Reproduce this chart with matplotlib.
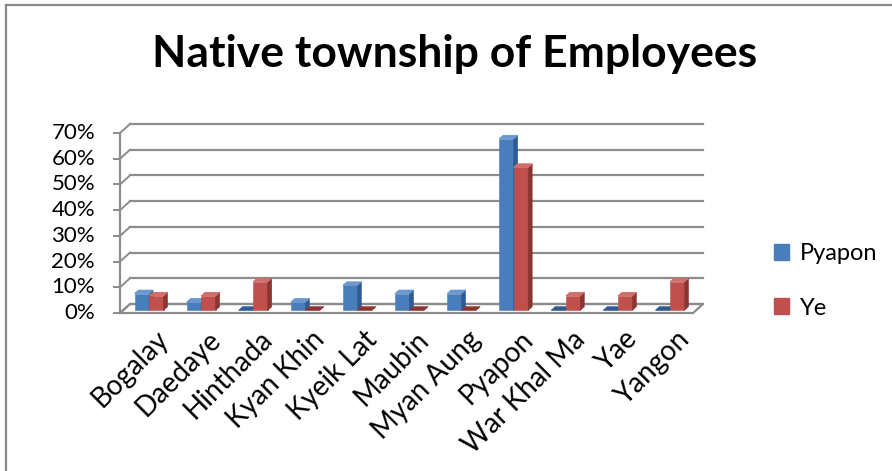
import matplotlib
matplotlib.use("Agg")
import matplotlib.pyplot as plt
from matplotlib.lines import Line2D
from matplotlib.patches import Polygon, Patch

categories = ["Bogalay", "Daedaye", "Hinthada", "Kyan Khin", "Kyeik Lat", "Maubin",
              "Myan Aung", "Pyapon", "War Khal Ma", "Yae", "Yangon"]
pyapon = [6.5, 3.2, 0.0, 3.2, 9.7, 6.5, 6.5, 66.7, 0.0, 0.0, 0.0]
ye = [5.6, 5.6, 11.1, 0.0, 0.0, 0.0, 0.0, 55.6, 5.6, 5.6, 11.1]
series_names = ["Pyapon", "Ye"]
y_ticks = [0, 10, 20, 30, 40, 50, 60, 70]
title = "Native township of Employees"

FONT = "Lato"
plt.rcParams["font.family"] = [FONT, "DejaVu Sans"]

W, H = 892, 471
fig = plt.figure(figsize=(W / 100, H / 100), dpi=100)
fig.patch.set_facecolor("white")

# back wall of the 3-D box, in pixels
bx0, bx1 = 130, 703
by0, by1 = 304, 124
ax = fig.add_axes([bx0 / W, 1 - by0 / H, (bx1 - bx0) / W, (by0 - by1) / H])
ax.set_xlim(-0.5, len(categories) - 0.5)
ax.set_ylim(0, 70)
ax.axis("off")

ux = (bx1 - bx0) / len(categories)   # pixels per category
uy = (by0 - by1) / 70.0              # pixels per percent


def off(dx_px, dy_px):
    """pixel shift (right, down) expressed in data units"""
    return dx_px / ux, -dy_px / uy


grid_col = "#8c8c8c"
fdx, fdy = off(-10, 9)          # front plane relative to back wall
x_left, x_right = -0.5, len(categories) - 0.5

# floor
floor = Polygon([(x_left, 0), (x_right, 0), (x_right + fdx, fdy), (x_left + fdx, fdy)],
                closed=True, facecolor="white", edgecolor=grid_col, lw=1.6,
                clip_on=False, zorder=1)
ax.add_patch(floor)

# back-wall gridlines and side-wall diagonals
for v in y_ticks:
    ax.plot([x_left, x_right], [v, v], color=grid_col, lw=1.6, clip_on=False, zorder=1)
    ax.plot([x_left, x_left + fdx], [v, v + fdy], color=grid_col, lw=1.4,
            clip_on=False, zorder=1)
    tdx, _ = off(-6, 0)
    ax.plot([x_left + fdx, x_left + fdx + tdx], [v + fdy, v + fdy], color=grid_col,
            lw=1.4, clip_on=False, zorder=1)
    lx, _ = off(-25, 0)
    ax.text(x_left + fdx + lx, v + fdy, f"{v}%", ha="right", va="center",
            fontsize=16, color="black")

# front vertical axis
ax.plot([x_left + fdx, x_left + fdx], [fdy, 70 + fdy], color=grid_col, lw=1.6,
        clip_on=False, zorder=1)

# bars
bar_w = 14.5 / ux
pos_dx, pos_dy = off(-7, 6.3)   # front face of the bars
dep_dx, dep_dy = off(4, -3.5)    # bar depth
colors = [
    ("#4a7ebb", "#2f5b90", "#6a97cf"),
    ("#c0504d", "#8b3532", "#d06d6a"),
]

for i in range(len(categories)):
    for s, vals in enumerate([pyapon, ye]):
        h = vals[i]
        L = i - bar_w + s * bar_w + pos_dx
        R = L + bar_w
        b = pos_dy
        t = h + pos_dy
        front_c, side_c, top_c = colors[s]
        z = 3 + s
        if h > 0:
            ax.add_patch(Polygon([(L, b), (R, b), (R, t), (L, t)], closed=True,
                                 facecolor=front_c, edgecolor=front_c, lw=0.4,
                                 clip_on=False, zorder=z))
            ax.add_patch(Polygon([(R, b), (R + dep_dx, b + dep_dy), (R + dep_dx, t + dep_dy),
                                  (R, t)], closed=True, facecolor=side_c,
                                 edgecolor=side_c, lw=0.4, clip_on=False, zorder=z))
        ax.add_patch(Polygon([(L, t), (R, t), (R + dep_dx, t + dep_dy), (L + dep_dx, t + dep_dy)],
                             closed=True, facecolor=top_c if h > 0 else side_c,
                             edgecolor=top_c if h > 0 else side_c, lw=0.6,
                             clip_on=False, zorder=z))

# category labels
lab_dx, lab_dy = off(-1, 22)
for i, name in enumerate(categories):
    ax.text(i + lab_dx, lab_dy, name, rotation=45, rotation_mode="anchor",
            ha="right", va="top", fontsize=20, color="black")

# title
fig.text(455 / W, 1 - 67 / H, title, ha="center", va="baseline", fontsize=32,
         fontweight="bold", color="black")

# legend
handles = [Patch(facecolor=colors[0][0], edgecolor=colors[0][0]),
           Patch(facecolor=colors[1][0], edgecolor=colors[1][0])]
fig.legend(handles, series_names, loc="center left",
           bbox_to_anchor=(774 / W, 1 - 281 / H), frameon=False, fontsize=17,
           handlelength=0.65, handleheight=0.65, handletextpad=0.45,
           labelspacing=1.4, borderpad=0, borderaxespad=0)

# outer chart frame
fig.add_artist(Line2D([6 / W, 1], [1 - 4.5 / H, 1 - 4.5 / H], color="#8a8a8a", lw=1.6,
                      transform=fig.transFigure))
fig.add_artist(Line2D([6 / W, 6 / W], [0, 1 - 4.5 / H], color="#8a8a8a", lw=1.6,
                      transform=fig.transFigure))

fig.savefig("out.png", dpi=100, facecolor="white")
